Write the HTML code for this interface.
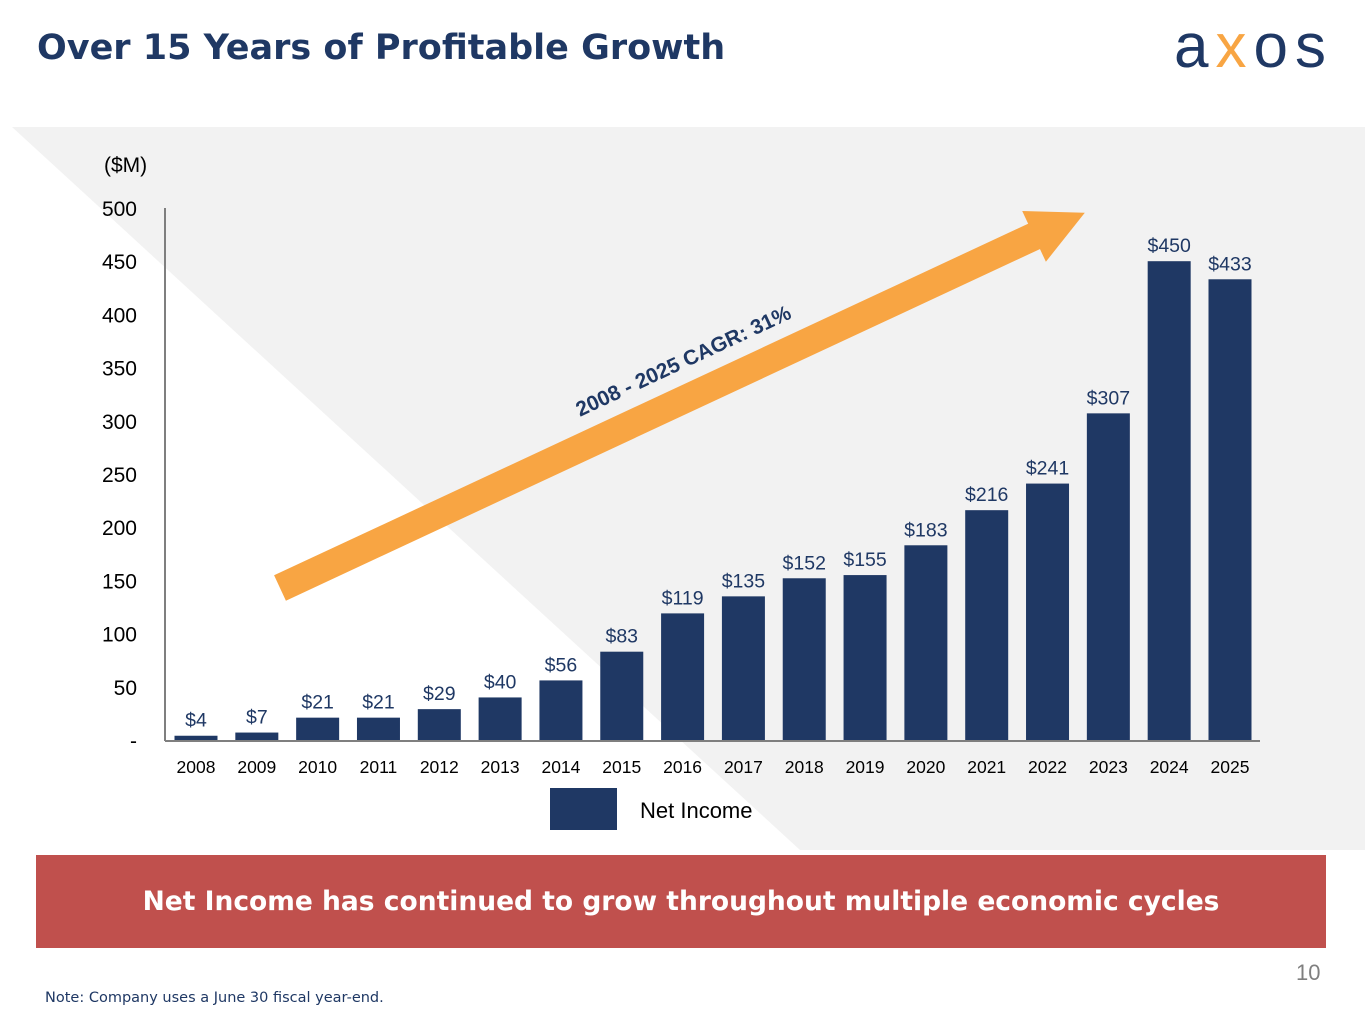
<!DOCTYPE html>
<html><head><meta charset="utf-8">
<style>
html,body{margin:0;padding:0;background:#fff;}
body{width:1365px;height:1024px;position:relative;overflow:hidden;font-family:"Liberation Sans",sans-serif;}
#title{position:absolute;left:37px;top:28px;font-family:"DejaVu Sans",sans-serif;font-weight:bold;font-size:35px;color:#1f3864;margin:0;}
#banner{position:absolute;left:36px;top:855px;width:1290px;height:93px;background:#c0504d;color:#fff;font-family:"DejaVu Sans",sans-serif;font-weight:bold;font-size:26.5px;display:flex;align-items:center;justify-content:center;}
#pagenum{position:absolute;left:1296px;top:960px;font-size:22px;color:#7f7f7f;}
#note{position:absolute;left:45px;top:990px;font-family:"DejaVu Sans",sans-serif;font-size:14.5px;color:#1f3864;}
svg{position:absolute;left:0;top:0;}
</style></head><body>
<svg id="chart" width="1365" height="1024">
  <polygon points="12,127 1365,127 1365,850 12,850" fill="#f2f2f2"/>
  <polygon points="12,127 800,850 12,850" fill="#ffffff"/>
  <g id="bars"></g>
  <g transform="translate(280,588) rotate(-25)">
    <rect x="0" y="-14" width="850" height="28" fill="#f8a543"/>
    <polygon points="832,-28 888,0 832,28" fill="#f8a543"/>
  </g>
  <text x="683" y="368" transform="rotate(-25 683 360)" text-anchor="middle" font-family="Liberation Sans, sans-serif" font-weight="bold" font-size="21" fill="#1f3864">2008 - 2025 CAGR: 31%</text>
  <text x="104" y="172" font-size="21" fill="#000">($M)</text>
  <rect x="550" y="788" width="67" height="42" fill="#1f3864"/>
  <text x="640" y="818" font-size="22" fill="#000">Net Income</text>
  <text x="1174" y="67" font-size="62" fill="#1f3864" letter-spacing="7">a<tspan fill="#f8a543">x</tspan>os</text>
</svg>
<h1 id="title">Over 15 Years of Profitable Growth</h1>
<div id="banner">Net Income has continued to grow throughout multiple economic cycles</div>
<div id="pagenum">10</div>
<div id="note">Note: Company uses a June 30 fiscal year-end.</div>
<script>
const years = ["2008","2009","2010","2011","2012","2013","2014","2015","2016","2017","2018","2019","2020","2021","2022","2023","2024","2025"];
const netIncome = [4,7,21,21,29,40,56,83,119,135,152,155,183,216,241,307,450,433];
const valueLabels = ["$4","$7","$21","$21","$29","$40","$56","$83","$119","$135","$152","$155","$183","$216","$241","$307","$450","$433"];
const yTicks = [0,50,100,150,200,250,300,350,400,450,500];
const yTickLabels = ["-","50","100","150","200","250","300","350","400","450","500"];

const NS = "http://www.w3.org/2000/svg";
const g = document.getElementById("bars");
const y0 = 740, y500 = 208, xAxisLeft = 165, xAxisRight = 1260;
function yScale(v){ return y0 - (v/500)*(y0-y500); }
function xScale(i){ return 196 + i*((1230-196)/(years.length-1)); }
function mk(tag, attrs){ const e=document.createElementNS(NS,tag); for(const k in attrs) e.setAttribute(k,attrs[k]); g.appendChild(e); return e; }

yTicks.forEach((t,i)=>{
  const e = mk("text",{x:137,y:yScale(t)+8,"text-anchor":"end","font-size":21,fill:"#000"});
  e.textContent = yTickLabels[i];
  
  
});
years.forEach((yr,i)=>{
  const cx = xScale(i), top = yScale(netIncome[i]);
  const r = mk("rect",{x:cx-21.5,y:top,width:43,height:y0-top,fill:"#1f3864"});
  
  
  const l = mk("text",{x:cx,y:top-9,"text-anchor":"middle","font-size":19.5,fill:"#1f3864"});
  l.textContent = valueLabels[i];
  
  
  const xl = mk("text",{x:cx,y:773,"text-anchor":"middle","font-size":17.5,fill:"#000"});
  xl.textContent = yr;
  
  
});
const ya = mk("line",{x1:xAxisLeft,y1:y500,x2:xAxisLeft,y2:y0+1,stroke:"#7f7f7f","stroke-width":2});


const xa = mk("line",{x1:xAxisLeft,y1:y0+1,x2:xAxisRight,y2:y0+1,stroke:"#7f7f7f","stroke-width":2});


</script>
</body></html>
